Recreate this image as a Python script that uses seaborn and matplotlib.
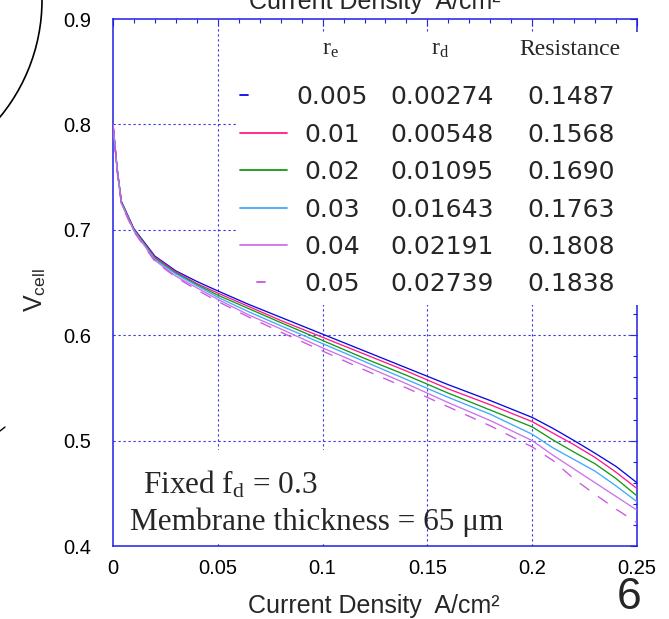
import numpy as np
import pandas as pd
import matplotlib
matplotlib.use("Agg")
import matplotlib.pyplot as plt
from matplotlib.patches import Rectangle, Ellipse
from matplotlib.lines import Line2D
import seaborn as sns

# ---------------- data ----------------
current_density = [0, 0.002, 0.004, 0.01, 0.02, 0.03, 0.04, 0.05, 0.065, 0.08, 0.1,
                   0.12, 0.14, 0.16, 0.18, 0.2, 0.21, 0.22, 0.23, 0.24, 0.25]
v_re_0005 = [0.800, 0.758, 0.727, 0.701, 0.675, 0.661, 0.651, 0.642, 0.629, 0.617, 0.601,
             0.585, 0.569, 0.553, 0.538, 0.522, 0.5115, 0.500, 0.488, 0.4755, 0.460]
v_re_001 = [0.800, 0.757, 0.726, 0.700, 0.674, 0.660, 0.649, 0.640, 0.627, 0.614, 0.598,
            0.582, 0.566, 0.549, 0.534, 0.518, 0.507, 0.496, 0.484, 0.470, 0.4545]
v_re_002 = [0.800, 0.757, 0.726, 0.700, 0.673, 0.659, 0.648, 0.638, 0.625, 0.612, 0.595,
            0.578, 0.562, 0.545, 0.529, 0.513, 0.5005, 0.489, 0.478, 0.464, 0.4475]
v_re_003 = [0.800, 0.757, 0.725, 0.699, 0.672, 0.658, 0.647, 0.636, 0.622, 0.609, 0.592,
            0.575, 0.558, 0.541, 0.525, 0.506, 0.493, 0.482, 0.471, 0.457, 0.442]
v_re_004 = [0.800, 0.756, 0.725, 0.699, 0.671, 0.656, 0.645, 0.634, 0.619, 0.606, 0.588,
            0.571, 0.554, 0.536, 0.519, 0.500, 0.486, 0.473, 0.460, 0.447, 0.434]
v_re_005 = [0.800, 0.756, 0.724, 0.698, 0.670, 0.655, 0.643, 0.632, 0.617, 0.603, 0.585,
            0.567, 0.550, 0.532, 0.514, 0.494, 0.481, 0.4635, 0.449, 0.435, 0.422]

r_e = ["0.005", "0.01", "0.02", "0.03", "0.04", "0.05"]
r_d = ["0.00274", "0.00548", "0.01095", "0.01643", "0.02191", "0.02739"]
resistance = ["0.1487", "0.1568", "0.1690", "0.1763", "0.1808", "0.1838"]

x_ticks = [0, 0.05, 0.1, 0.15, 0.2, 0.25]
x_tick_labels = ["0", "0.05", "0.1", "0.15", "0.2", "0.25"]
y_ticks = [0.4, 0.5, 0.6, 0.7, 0.8, 0.9]
y_tick_labels = ["0.4", "0.5", "0.6", "0.7", "0.8", "0.9"]

colors = ["#0a0ae0", "#ff1a8c", "#139a13", "#3fa9ff", "#cc72ea", "#cc55e0"]

# ---------------- long-form table ----------------
series = [v_re_0005, v_re_001, v_re_002, v_re_003, v_re_004, v_re_005]
frames = []
for lab, vals in zip(r_e, series):
    frames.append(pd.DataFrame({"j": current_density, "V": vals, "re": lab}))
df = pd.concat(frames, ignore_index=True)

# ---------------- style ----------------
sns.set_theme(style="white")
plt.rcParams["font.family"] = ["Liberation Sans", "DejaVu Sans"]
plt.rcParams["mathtext.fontset"] = "custom"
plt.rcParams["mathtext.rm"] = "Liberation Serif"
plt.rcParams["mathtext.sf"] = "Liberation Sans"
plt.rcParams["mathtext.it"] = "Liberation Serif:italic"

fig = plt.figure(figsize=(6.69, 6.19), dpi=100)
W, H = 669, 619
ax = fig.add_axes([113 / W, 1 - 546 / H, (637 - 113) / W, (546 - 19) / H])

palette = dict(zip(r_e, colors))
dashes = {lab: "" for lab in r_e}
dashes["0.05"] = (9, 8)
sns.lineplot(data=df, x="j", y="V", hue="re", style="re", palette=palette,
             dashes=dashes, hue_order=r_e, style_order=r_e, legend=False,
             linewidth=0.95, ax=ax, zorder=3)

ax.set_xlim(0, 0.25)
ax.set_ylim(0.4, 0.9)
ax.set_xticks(x_ticks)
ax.set_xticklabels(x_tick_labels)
ax.set_yticks(y_ticks)
ax.set_yticklabels(y_tick_labels)
ax.set_xticks(np.arange(0, 0.2501, 0.01), minor=True)
ax.set_yticks(np.arange(0.4, 0.9001, 0.02), minor=True)
ax.set_xlabel("")
ax.set_ylabel("")

spine_color = "#1f1fe6"
for s in ax.spines.values():
    s.set_color(spine_color)
    s.set_linewidth(1.1)
    s.set_visible(True)
ax.tick_params(which="both", direction="in", top=True, right=True,
               color=spine_color, width=0.8, labelcolor="black")
ax.tick_params(which="major", length=5)
ax.tick_params(which="minor", length=3)
ax.tick_params(axis="x", which="major", pad=9, labelsize=14.5)
ax.tick_params(axis="y", which="major", pad=16, labelsize=14.5)

# dotted grid (drawn below the white masks)
grid_color = "#3333ee"
for xv in x_ticks[1:-1]:
    ax.axvline(xv, color=grid_color, lw=0.8, ls=(0, (2, 2.5)), zorder=0.7)
for yv in y_ticks[1:-1]:
    ax.axhline(yv, color=grid_color, lw=0.8, ls=(0, (2, 2.5)), zorder=0.7)

# white masks behind the legend table and the annotation
ax.add_patch(Rectangle((0.2385, 0.457), 0.80, 0.518, transform=ax.transAxes,
                       facecolor="white", edgecolor="none", zorder=2.6, clip_on=False))
ax.add_patch(Rectangle((0.004, 0.004), 0.54, 0.178, transform=ax.transAxes,
                       facecolor="white", edgecolor="none", zorder=1.0))

# ---------------- legend table ----------------
col_x = [0.418, 0.628, 0.874]
row_base = [0.839, 0.767, 0.696, 0.624, 0.554, 0.484]
row_mid = [0.856, 0.784, 0.713, 0.641, 0.571, 0.501]
serif = ["Liberation Serif", "DejaVu Serif"]
ax.text(0.414, 0.932, r"r$_{\mathrm{e}}$", transform=ax.transAxes, ha="center",
        va="baseline", fontsize=17, family=serif, zorder=4)
ax.text(0.624, 0.932, r"r$_{\mathrm{d}}$", transform=ax.transAxes, ha="center",
        va="baseline", fontsize=17, family=serif, zorder=4)
ax.text(0.872, 0.932, "Resistance", transform=ax.transAxes, ha="center",
        va="baseline", fontsize=17, family=serif, zorder=4)
for i in range(6):
    for cx, txt in zip(col_x, [r_e[i], r_d[i], resistance[i]]):
        ax.text(cx, row_base[i], txt, transform=ax.transAxes, ha="center",
                va="baseline", fontsize=18, family=["DejaVu Sans"], zorder=4)
    if i == 0:
        xs = [0.242, 0.258]
    elif i == 5:
        xs = [0.275, 0.290]
    else:
        xs = [0.242, 0.332]
    ax.add_line(Line2D(xs, [row_mid[i], row_mid[i]], transform=ax.transAxes,
                       color=colors[i], lw=1.3, zorder=4))

# ---------------- annotation ----------------
ax.text(0.057, 0.0987, r"Fixed f$_{\mathrm{d}}$ = 0.3", transform=ax.transAxes,
        ha="left", va="baseline", fontsize=22.5, family=serif, zorder=4)
ax.text(0.032, 0.030, "Membrane thickness = 65 \u03bcm", transform=ax.transAxes,
        ha="left", va="baseline", fontsize=22.5, family=serif, zorder=4)

# ---------------- axis titles and slide decorations ----------------
xlab = "Current Density  A/cm\u00b2"
fig.text(374 / W, 1 - 613 / H, xlab, ha="center", va="baseline", fontsize=18)
fig.text(375 / W, 1 - 9 / H, xlab, ha="center", va="baseline", fontsize=18)
fig.text(35 / W, 1 - 290 / H, r"V$_{\mathsf{cell}}$", rotation=90, ha="center",
         va="center", fontsize=18)
fig.text(629 / W, 1 - 618 / H, "6", ha="center", va="bottom", fontsize=32)

fig.add_artist(Ellipse((-142 / W, 1.0), 2 * 184 / W, 2 * 184 / H,
                       transform=fig.transFigure, fill=False, edgecolor="black", lw=1.2))
fig.add_artist(Line2D([0 / W, 5 / W], [1 - 431 / H, 1 - 427 / H],
                      transform=fig.transFigure, color="black", lw=1.0))

fig.savefig("out.png", dpi=100)
